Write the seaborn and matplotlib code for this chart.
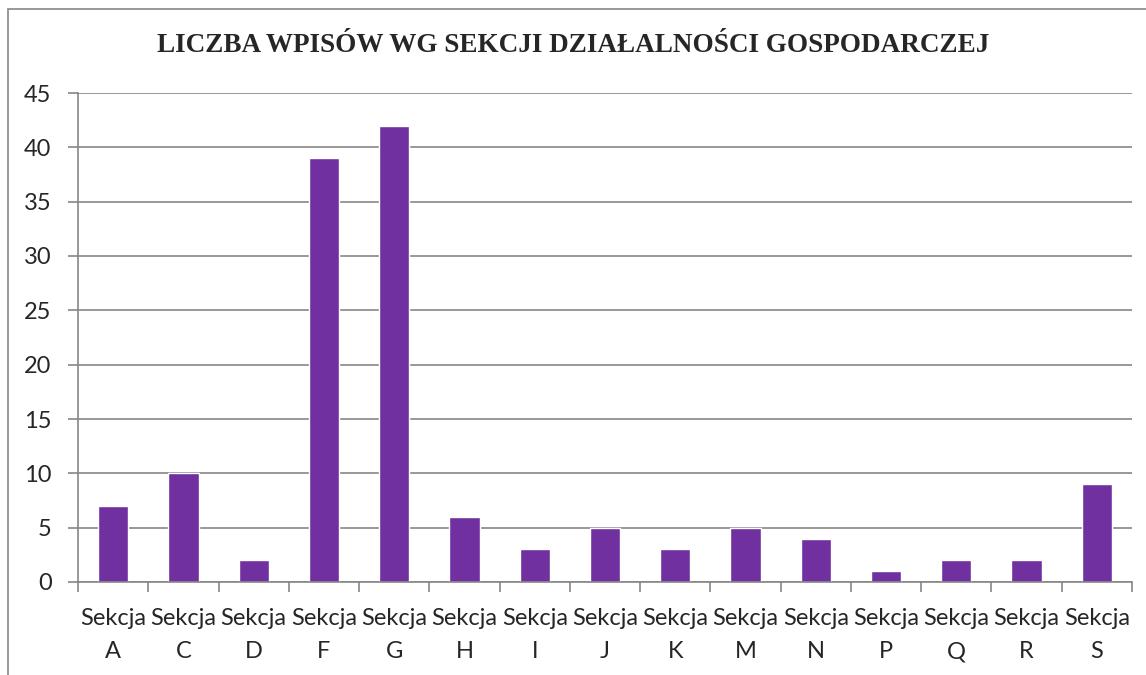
import numpy as np
import pandas as pd
import matplotlib
matplotlib.use("Agg")
import matplotlib.pyplot as plt
import seaborn as sns
from matplotlib.patches import Rectangle

# data
sections = ['A', 'C', 'D', 'F', 'G', 'H', 'I', 'J', 'K', 'M', 'N', 'P', 'Q', 'R', 'S']
counts = [7, 10, 2, 39, 42, 6, 3, 5, 3, 5, 4, 1, 2, 2, 9]
yticks = [0, 5, 10, 15, 20, 25, 30, 35, 40, 45]

df = pd.DataFrame({'Sekcja': ['Sekcja\n' + s for s in sections], 'Liczba': counts})

sns.set_style("white")
plt.rcParams['font.family'] = ['Lato', 'DejaVu Sans']
grid_col = '#868686'

fig = plt.figure(figsize=(11.46, 6.75), dpi=100)
ax = fig.add_axes([78 / 1146, 1 - 582 / 675, (1132 - 78) / 1146, (582 - 93) / 675])

sns.barplot(data=df, x='Sekcja', y='Liczba', color='#7030A0', saturation=1,
            width=0.43, ax=ax)

ax.set_ylim(0, 45)
ax.set_xlim(-0.5, len(sections) - 0.5)
ax.set_yticks(yticks)
ax.yaxis.grid(True, color=grid_col, linewidth=1.2)
ax.set_axisbelow(True)
ax.set_xlabel('')
ax.set_ylabel('')

for side in ['top', 'right']:
    ax.spines[side].set_visible(False)
for side in ['left', 'bottom']:
    ax.spines[side].set_color(grid_col)
    ax.spines[side].set_linewidth(1.2)

ax.tick_params(axis='y', which='major', length=7, width=1.2, color=grid_col,
               labelsize=17, pad=12, left=True)
ax.tick_params(axis='x', which='major', length=0, labelsize=17, pad=19)
ax.set_xticks(np.arange(-0.5, len(sections)), minor=True)
ax.tick_params(axis='x', which='minor', length=7, width=1.2, color=grid_col, bottom=True)
for lbl in ax.get_xticklabels():
    lbl.set_linespacing(1.7)

fig.text(0.5, 1 - 45 / 675, 'LICZBA WPISÓW WG SEKCJI DZIAŁALNOŚCI GOSPODARCZEJ',
         ha='center', va='center', fontsize=19.5, fontweight='bold',
         family=['Liberation Serif', 'DejaVu Serif'])

fig.patches.append(Rectangle((8 / 1146, -0.1), 1.2, 1 - 9 / 675 + 0.1,
                             transform=fig.transFigure, fill=False,
                             edgecolor=grid_col, linewidth=1.2))

fig.savefig('out.png', dpi=100)
